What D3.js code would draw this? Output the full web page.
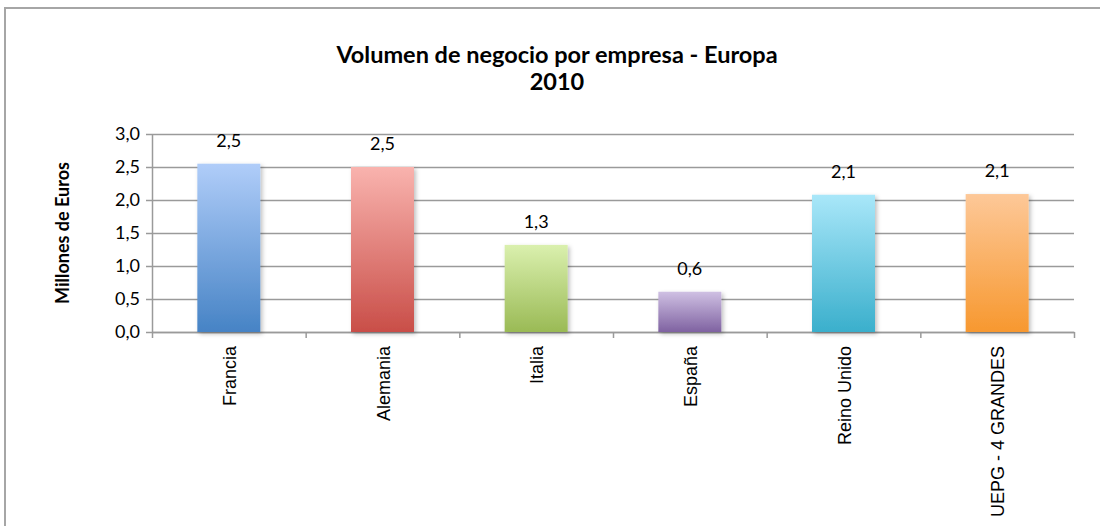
<!DOCTYPE html>
<html>
<head>
<meta charset="utf-8">
<script src="https://cdn.jsdelivr.net/npm/d3@7"></script>
<style>
  body { margin: 0; background: #fff; }
  svg { display: block; }
  .axis path, .axis line { stroke: #9a9a9a; stroke-width: 1.5; }
  .grid line { stroke: #9a9a9a; stroke-width: 1.5; }
  .grid path { display: none; }
  .ytick text { font-family: Lato, "Open Sans", sans-serif; font-size: 18px; fill: #000; }
</style>
</head>
<body>
<div id="chart"></div>
<script>
// datos del gráfico
const categories = ["Francia", "Alemania", "Italia", "España", "Reino Unido", "UEPG - 4 GRANDES"];
const values = [2.55, 2.5, 1.32, 0.61, 2.08, 2.09];
const valueLabels = ["2,5", "2,5", "1,3", "0,6", "2,1", "2,1"];
const yTicks = [0, 0.5, 1.0, 1.5, 2.0, 2.5, 3.0];
const topColors = ["#b0cdf9", "#f9b3ae", "#daf0ae", "#cfc0e3", "#a9e7f9", "#fdc898"];
const bottomColors = ["#4683c5", "#c94e48", "#9aba55", "#7f62a1", "#3aafcc", "#f7982f"];

const width = 1100, height = 526;
const margin = { top: 134, right: 26, bottom: 194, left: 152 };

const svg = d3.select('#chart').append('svg')
    .attr('width', width).attr('height', height);

const defs = svg.append('defs');
categories.forEach((c, i) => {
    const g = defs.append('linearGradient').attr('id', 'grad' + i)
        .attr('x1', 0).attr('y1', 0).attr('x2', 0).attr('y2', 1);
    g.append('stop').attr('offset', '0%').attr('stop-color', topColors[i]);
    g.append('stop').attr('offset', '100%').attr('stop-color', bottomColors[i]);
});
const shadow = defs.append('filter').attr('id', 'shadow')
    .attr('x', '-20%').attr('y', '-20%').attr('width', '140%').attr('height', '140%');
shadow.append('feDropShadow').attr('dx', 2).attr('dy', 2).attr('stdDeviation', 2)
    .attr('flood-color', '#000').attr('flood-opacity', 0.25);

// marco del gráfico
svg.append('rect').attr('x', 5).attr('y', 8).attr('width', 1200).attr('height', 700)
    .attr('fill', 'none').attr('stroke', '#a6a6a6').attr('stroke-width', 2);

const x0 = margin.left, x1 = width - margin.right;
const yBottom = height - margin.bottom;

const X_scale = d3.scaleBand().domain(categories).range([x0, x1])
    .paddingInner(0.59).paddingOuter(0.295);
const Y_scale = d3.scaleLinear([0, 3], [yBottom, margin.top]);
const idx_scale = d3.scaleLinear([0, categories.length], [x0, x1]);

// líneas de división
svg.append('g').attr('class', 'grid')
    .attr('transform', `translate(${x0},0)`)
    .call(d3.axisLeft(Y_scale).tickValues(yTicks).tickSize(-(x1 - x0)).tickFormat(''));

// eje Y
svg.append('g').attr('class', 'axis ytick')
    .attr('transform', `translate(${x0},0)`)
    .call(d3.axisLeft(Y_scale).tickValues(yTicks).tickSizeInner(6).tickSizeOuter(0)
        .tickPadding(6).tickFormat(d => d3.format('.1f')(d).replace('.', ',')));

// eje X
svg.append('g').attr('class', 'axis')
    .attr('transform', `translate(0,${yBottom})`)
    .call(d3.axisBottom(idx_scale).tickValues(d3.range(categories.length + 1))
        .tickSizeInner(6).tickSizeOuter(0).tickFormat(''));

// barras
svg.append('g').selectAll('rect').data(values).join('rect')
    .attr('x', (d, i) => X_scale(categories[i]))
    .attr('y', d => Y_scale(d))
    .attr('width', X_scale.bandwidth())
    .attr('height', d => yBottom - Y_scale(d))
    .attr('fill', (d, i) => `url(#grad${i})`)
    .attr('filter', 'url(#shadow)');

// etiquetas de datos
svg.append('g').selectAll('text').data(values).join('text')
    .attr('x', (d, i) => X_scale(categories[i]) + X_scale.bandwidth() / 2)
    .attr('y', d => Y_scale(d) - 17)
    .attr('text-anchor', 'middle')
    .style('font-family', 'Lato, "Open Sans", sans-serif').style('font-size', '18px')
    .text((d, i) => valueLabels[i]);

// etiquetas de categorías
svg.append('g').selectAll('text').data(categories).join('text')
    .attr('transform', d => `translate(${X_scale(d) + X_scale.bandwidth() / 2 + 7},${yBottom + 14}) rotate(-90)`)
    .attr('text-anchor', 'end')
    .style('font-family', '"Liberation Sans", Arial, sans-serif').style('font-size', '18px')
    .text(d => d);

// título
const header = svg.append('text').attr('text-anchor', 'middle')
    .style('font-family', 'Lato, "Open Sans", sans-serif').style('font-weight', 'bold')
    .style('font-size', '23.5px');
header.append('tspan').attr('x', 557).attr('y', 63).text('Volumen de negocio por empresa - Europa');
header.append('tspan').attr('x', 557).attr('y', 90).text('2010');

// título del eje Y
svg.append('text')
    .attr('transform', `translate(69,${(yBottom + margin.top) / 2}) rotate(-90)`)
    .attr('text-anchor', 'middle')
    .style('font-family', 'Lato, "Open Sans", sans-serif').style('font-weight', 'bold')
    .style('font-size', '18px')
    .text('Millones de Euros');
</script>
</body>
</html>
